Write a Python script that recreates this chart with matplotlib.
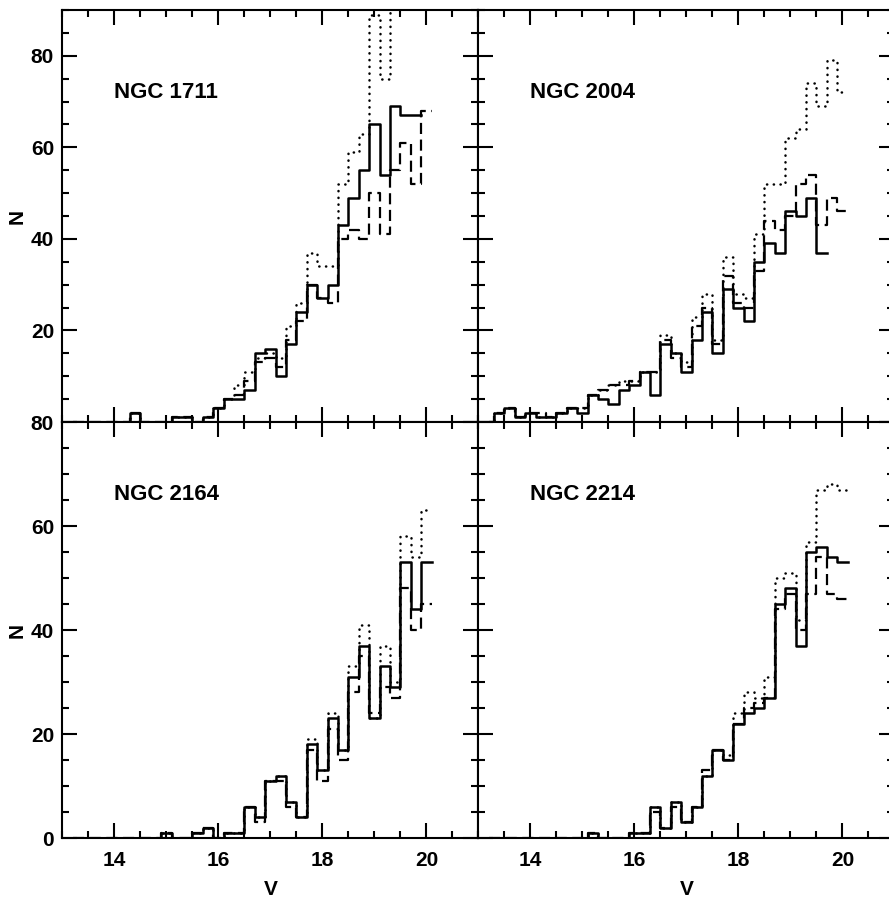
import numpy as np
import matplotlib
matplotlib.use("Agg")
import matplotlib.pyplot as plt
from matplotlib.ticker import MultipleLocator

nan = np.nan

# bin centres in V (0.2 mag bins), last one is only there to close the histogram
V = [13.2, 13.4, 13.6, 13.8, 14.0, 14.2, 14.4, 14.6, 14.8, 15.0, 15.2, 15.4,
     15.6, 15.8, 16.0, 16.2, 16.4, 16.6, 16.8, 17.0, 17.2, 17.4, 17.6, 17.8,
     18.0, 18.2, 18.4, 18.6, 18.8, 19.0, 19.2, 19.4, 19.6, 19.8, 20.0, 20.2]

# NGC 1711
n1711_solid = [0, 0, 0, 0, 0, 0, 2, 0, 0, 0, 1, 1, 0, 1, 3, 5, 5, 7, 15, 16, 10, 17, 24, 30,
               27, 30, 43, 49, 55, 65, 54, 69, 67, 67, nan, nan]
n1711_dashed = [0, 0, 0, 0, 0, 0, 2, 0, 0, 0, 1, 1, 0, 1, 3, 5, 6, 9, 13, 14, 12, 18, 22, 30,
                27, 26, 40, 42, 40, 50, 41, 55, 61, 52, 68, nan]
n1711_dotted = [0, 0, 0, 0, 0, 0, 2, 0, 0, 0, 1, 1, 0, 1, 3, 5, 8, 11, 14, 15, 14, 21, 26, 37,
                34, 34, 52, 59, 63, 89, 75, 95, nan, nan, nan, nan]

# NGC 2004
n2004_solid = [0, 2, 3, 1, 2, 1, 1, 2, 3, 2, 6, 5, 4, 7, 8, 11, 6, 17, 15, 11, 18, 24, 15, 29,
               25, 22, 35, 39, 37, 46, 45, 49, 37, nan, nan, nan]
n2004_dashed = [0, 2, 3, 1, 2, 2, 1, 2, 3, 3, 6, 7, 8, 8, 9, 11, 11, 18, 14, 12, 21, 25, 17, 32,
                26, 25, 33, 44, 42, 45, 52, 54, 43, 49, 46, nan]
n2004_dotted = [0, 2, 3, 1, 2, 1, 1, 2, 3, 3, 6, 7, 8, 9, 9, 11, 11, 19, 15, 13, 23, 28, 18, 36,
                28, 27, 41, 52, 52, 62, 64, 74, 69, 79, 72, nan]

# NGC 2164
n2164_solid = [0, 0, 0, 0, 0, 0, 0, 0, 0, 1, 0, 0, 1, 2, 0, 1, 1, 6, 4, 11, 12, 7, 4, 18,
               13, 23, 17, 31, 37, 23, 33, 29, 53, 44, 53, nan]
n2164_dashed = [0, 0, 0, 0, 0, 0, 0, 0, 0, 1, 0, 0, 1, 2, 0, 1, 1, 6, 3, 11, 11, 6, 4, 17,
                11, 21, 15, 28, 35, 24, 29, 27, 48, 40, 45, nan]
n2164_dotted = [0, 0, 0, 0, 0, 0, 0, 0, 0, 1, 0, 0, 1, 2, 0, 1, 1, 6, 4, 11, 12, 7, 4, 19,
                13, 24, 17, 33, 41, 23, 37, 30, 58, 54, 63, nan]

# NGC 2214
n2214_solid = [0, 0, 0, 0, 0, 0, 0, 0, 0, 0, 1, 0, 0, 0, 1, 1, 6, 2, 7, 3, 6, 12, 17, 15,
               22, 24, 25, 27, 45, 48, 37, 55, 56, 54, 53, nan]
n2214_dashed = [0, 0, 0, 0, 0, 0, 0, 0, 0, 0, 1, 0, 0, 0, 1, 1, 5, 2, 6, 3, 6, 13, 17, 15,
                22, 25, 26, 27, 44, 47, 40, 47, 54, 47, 46, nan]
n2214_dotted = [0, 0, 0, 0, 0, 0, 0, 0, 0, 0, 1, 0, 0, 0, 1, 1, 6, 2, 7, 3, 6, 12, 17, 16,
                24, 28, 27, 31, 50, 51, 42, 57, 67, 68, 67, nan]

FIG_W, FIG_H = 889, 898


def plotPanel(ax, solid, dashed, dotted, name, ymax, name_y):
    """ draw the three histograms of one cluster """
    ax.plot(V, dotted, color='k', lw=1.8, ls=(0, (0.1, 2.6)), dash_capstyle='round',
            drawstyle='steps-mid')
    ax.plot(V, dashed, color='k', lw=1.6, ls=(0, (5, 2.5)), drawstyle='steps-mid')
    ax.plot(V, solid, color='k', lw=1.8, drawstyle='steps-mid')

    ax.text(14.0, name_y, name, ha='left', va='center', fontsize=16, fontweight='bold')

    ax.set_xlim(13, 21)
    ax.set_ylim(0, ymax)
    ax.xaxis.set_major_locator(MultipleLocator(2))
    ax.xaxis.set_minor_locator(MultipleLocator(0.5))
    ax.yaxis.set_major_locator(MultipleLocator(20))
    ax.yaxis.set_minor_locator(MultipleLocator(5))
    ax.tick_params(which='both', direction='in', top=True, right=True, width=1.5,
                   labelsize=15)
    ax.tick_params(which='major', length=11)
    ax.tick_params(which='minor', length=5)
    ax.tick_params(axis='x', pad=9)
    ax.tick_params(axis='y', pad=6)
    for sp in ax.spines.values():
        sp.set_linewidth(1.5)
    for lab in ax.get_xticklabels() + ax.get_yticklabels():
        lab.set_fontweight('bold')


if __name__ == "__main__":
    plt.rcParams['font.family'] = ['Liberation Sans', 'DejaVu Sans']

    fig = plt.figure(figsize=(FIG_W / 100, FIG_H / 100), dpi=100)

    # panel boxes in pixels (left, top, right, bottom)
    x_left, x_mid, x_right = 62.4, 478.4, 894.4
    y_top, y_mid, y_bot = 10, 422, 838

    def box(l, t, r, b):
        return [l / FIG_W, 1 - b / FIG_H, (r - l) / FIG_W, (b - t) / FIG_H]

    ax_tl = fig.add_axes(box(x_left, y_top, x_mid, y_mid))
    ax_tr = fig.add_axes(box(x_mid, y_top, x_right, y_mid))
    ax_bl = fig.add_axes(box(x_left, y_mid, x_mid, y_bot))
    ax_br = fig.add_axes(box(x_mid, y_mid, x_right, y_bot))

    plotPanel(ax_tl, n1711_solid, n1711_dashed, n1711_dotted, "NGC 1711", 90, 72)
    plotPanel(ax_tr, n2004_solid, n2004_dashed, n2004_dotted, "NGC 2004", 90, 72)
    plotPanel(ax_bl, n2164_solid, n2164_dashed, n2164_dotted, "NGC 2164", 80, 66)
    plotPanel(ax_br, n2214_solid, n2214_dashed, n2214_dotted, "NGC 2214", 80, 66)

    # labels only on the outer edges
    for ax in [ax_tl, ax_tr]:
        ax.tick_params(labelbottom=False)
    for ax in [ax_tr, ax_br]:
        ax.tick_params(labelleft=False)
    ax_tl.set_yticks([0, 20, 40, 60, 80])
    ax_tl.set_yticklabels(['', '20', '40', '60', '80'], fontweight='bold')

    for ax in [ax_tl, ax_bl]:
        ax.text(-0.108, 0.5, "N", rotation=90, ha='center', va='center',
                fontsize=15, fontweight='bold', transform=ax.transAxes)
    for ax in [ax_bl, ax_br]:
        ax.text(0.5, -0.123, "V", ha='center', va='center',
                fontsize=15, fontweight='bold', transform=ax.transAxes)

    fig.savefig("out.png", dpi=100)
